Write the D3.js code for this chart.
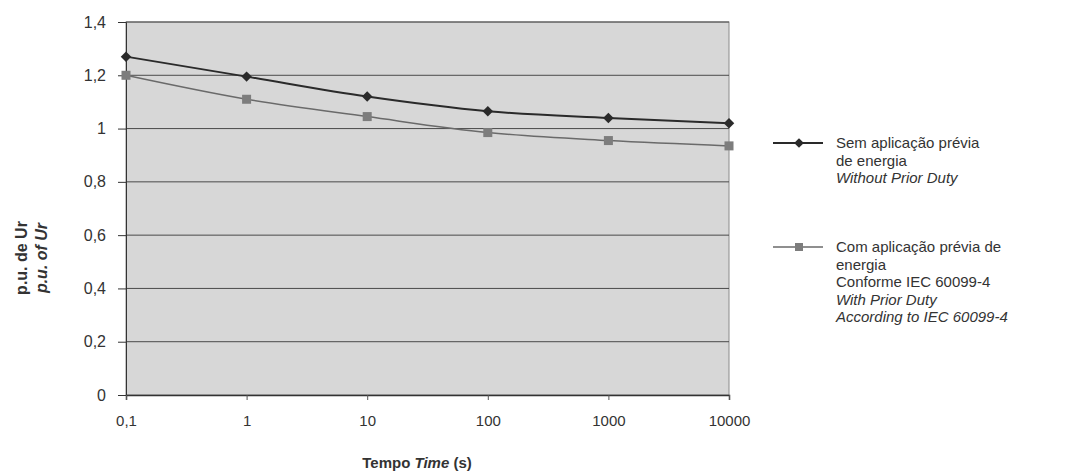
<!DOCTYPE html>
<html>
<head>
<meta charset="utf-8">
<script src="https://cdn.jsdelivr.net/npm/d3@7"></script>
<style>
  body { margin: 0; background: #fff; }
  svg { font-family: "Liberation Sans", Arial, sans-serif; }
</style>
</head>
<body>
<script>
let times = [0.1, 1, 10, 100, 1000, 10000];
let tickLabels = ['0,1', '1', '10', '100', '1000', '10000'];
let withoutPrior = [1.27, 1.195, 1.12, 1.065, 1.04, 1.02];
let withPrior = [1.2, 1.11, 1.045, 0.985, 0.955, 0.935];
let yTicks = [0, 0.2, 0.4, 0.6, 0.8, 1, 1.2, 1.4];

let width = 1084, height = 475;
let margin = {top: 22, right: 355, bottom: 80, left: 126};

let svg = d3.select('body').append('svg')
    .attr('width', width)
    .attr('height', height);

let x = d3.scaleLog()
    .domain([0.1, 10000])
    .range([margin.left, width - margin.right]);

let y = d3.scaleLinear()
    .domain([0, 1.4])
    .range([height - margin.bottom, margin.top]);

// plot area
svg.append('rect')
    .attr('x', x(0.1))
    .attr('y', y(1.4))
    .attr('width', x(10000) - x(0.1))
    .attr('height', y(0) - y(1.4))
    .attr('fill', '#d7d7d7')
    .attr('stroke', '#8a8a8a');

// gridlines
svg.append('g')
    .selectAll('line')
    .data(yTicks.filter(d => d > 0))
    .enter().append('line')
    .attr('x1', x(0.1))
    .attr('x2', x(10000))
    .attr('y1', d => y(d))
    .attr('y2', d => y(d))
    .attr('stroke', '#4a4a4a')
    .attr('stroke-width', 1);

let yAxis = svg.append('g')
    .attr('transform', `translate(${x(0.1)},0)`)
    .call(d3.axisLeft(y).tickValues(yTicks).tickSize(8).tickPadding(12)
        .tickFormat(d => d3.format('.1~f')(d).replace('.', ',')));
yAxis.select('.domain').attr('stroke', '#333');
yAxis.selectAll('.tick line').attr('stroke', '#333');
yAxis.selectAll('text').attr('font-size', 16).attr('fill', '#333')
    .attr('font-family', '"Liberation Sans", Arial, sans-serif');

let xAxis = svg.append('g')
    .attr('transform', `translate(0,${y(0)})`)
    .call(d3.axisBottom(x).tickValues(times).tickSize(5).tickPadding(15)
        .tickFormat((d, i) => tickLabels[i]));
xAxis.select('.domain').attr('stroke', '#333').attr('stroke-width', 1.5);
xAxis.selectAll('.tick line').attr('stroke', '#555');
xAxis.selectAll('text').attr('font-size', 15).attr('fill', '#333')
    .attr('font-family', '"Liberation Sans", Arial, sans-serif');

let line = d3.line()
    .x((d, i) => x(times[i]))
    .y(d => y(d))
    .curve(d3.curveMonotoneX);

// with prior duty (grey squares)
svg.append('path')
    .datum(withPrior)
    .attr('d', line)
    .attr('fill', 'none')
    .attr('stroke', '#6a6a6a')
    .attr('stroke-width', 1.5);

svg.append('g')
    .selectAll('rect')
    .data(withPrior)
    .enter().append('rect')
    .attr('x', (d, i) => x(times[i]) - 4.5)
    .attr('y', d => y(d) - 4.5)
    .attr('width', 9)
    .attr('height', 9)
    .attr('fill', '#7d7d7d');

// without prior duty (dark diamonds)
svg.append('path')
    .datum(withoutPrior)
    .attr('d', line)
    .attr('fill', 'none')
    .attr('stroke', '#2a2a2a')
    .attr('stroke-width', 2);

svg.append('g')
    .selectAll('path')
    .data(withoutPrior)
    .enter().append('path')
    .attr('d', d3.symbol().type(d3.symbolDiamond2).size(70))
    .attr('transform', (d, i) => `translate(${x(times[i])},${y(d)})`)
    .attr('fill', '#2a2a2a');

// axis titles
svg.append('text')
    .attr('x', 417)
    .attr('y', 468)
    .attr('text-anchor', 'middle')
    .attr('font-size', 15)
    .attr('font-weight', 'bold')
    .attr('fill', '#333')
    .html('Tempo <tspan font-style="italic">Time</tspan> (s)');

let yTitle = svg.append('text')
    .attr('transform', 'translate(0,258) rotate(-90)')
    .attr('text-anchor', 'middle')
    .attr('font-size', 16)
    .attr('font-weight', 'bold')
    .attr('fill', '#333');
yTitle.append('tspan').attr('x', 0).attr('y', 27).text('p.u. de Ur');
yTitle.append('tspan').attr('x', 0).attr('y', 47).attr('font-style', 'italic').text('p.u. of Ur');

// legend
let legendItems = [
    {y: 143, color: '#2a2a2a', marker: 'diamond', lines: [
        ['Sem aplicação prévia', false], ['de energia', false], ['Without Prior Duty', true]]},
    {y: 247, color: '#6a6a6a', marker: 'square', lines: [
        ['Com aplicação prévia de', false], ['energia', false], ['Conforme IEC 60099-4', false],
        ['With Prior Duty', true], ['According to IEC 60099-4', true]]}
];

let legend = svg.append('g');
legendItems.forEach(item => {
    legend.append('line')
        .attr('x1', 773).attr('x2', 823)
        .attr('y1', item.y).attr('y2', item.y)
        .attr('stroke', item.color)
        .attr('stroke-width', item.marker === 'diamond' ? 2 : 1.5);
    if (item.marker === 'diamond') {
        legend.append('path')
            .attr('d', d3.symbol().type(d3.symbolDiamond2).size(60))
            .attr('transform', `translate(799,${item.y})`)
            .attr('fill', item.color);
    } else {
        legend.append('rect')
            .attr('x', 795).attr('y', item.y - 4)
            .attr('width', 8).attr('height', 8)
            .attr('fill', '#7d7d7d');
    }
    let t = legend.append('text')
        .attr('font-size', 15)
        .attr('fill', '#333');
    item.lines.forEach((l, i) => {
        t.append('tspan')
            .attr('x', 836)
            .attr('y', item.y + 5 + i * 17.5)
            .attr('font-style', l[1] ? 'italic' : null)
            .text(l[0]);
    });
});
</script>
</body>
</html>
